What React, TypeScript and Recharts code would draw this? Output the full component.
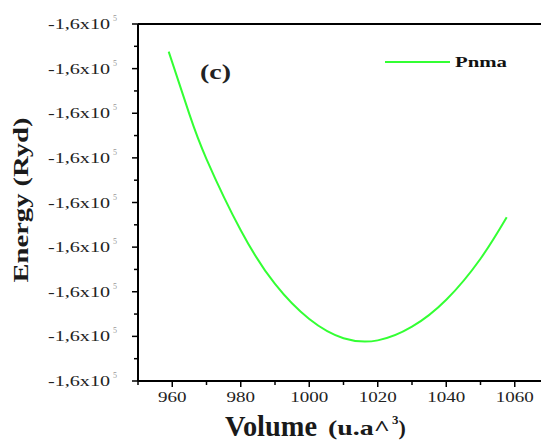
import { LineChart, Line, XAxis, YAxis, Legend, ReferenceLine } from "recharts";

// volume (u.a^3)
const volume = [958.96, 965, 970, 980, 990, 1000, 1010, 1020, 1030, 1040, 1050, 1057.65];
// energy (Ryd)
const energy = [
  -160003.1, -160010.1, -160015.13, -160023.11, -160029.13, -160033.06, -160035.21, -160035.45,
  -160033.92, -160030.9, -160026.3, -160021.65,
];

const xTicks = [950, 960, 970, 980, 990, 1000, 1010, 1020, 1030, 1040, 1050, 1060, 1070];
const yTicks = [
  -160040, -160037.5, -160035, -160032.5, -160030, -160027.5, -160025, -160022.5, -160020,
  -160017.5, -160015, -160012.5, -160010, -160007.5, -160005, -160002.5, -160000,
];

const data = volume.map((v, i) => ({ v, e: energy[i] }));

const SERIF = "'Liberation Serif', 'Times New Roman', serif";

function XTick(props: any) {
  const { x, y, payload } = props;
  const major = payload.value % 20 === 0;
  const label = String(payload.value);
  return (
    <g>
      <line x1={x} x2={x} y1={y} y2={y + (major ? 6 : 4)} stroke="#000" strokeWidth={1.5} />
      {major && (
        <text
          x={x}
          y={y + 21}
          textAnchor="middle"
          fontFamily={SERIF}
          fontSize={15}
          fill="#222"
          textLength={label.length * 9.5}
          lengthAdjust="spacingAndGlyphs"
        >
          {label}
        </text>
      )}
    </g>
  );
}

function YTick(props: any) {
  const { x, y, payload } = props;
  const major = Math.abs(payload.value % 5) < 0.01;
  return (
    <g>
      <line x1={x} x2={x - (major ? 6 : 4)} y1={y} y2={y} stroke="#000" strokeWidth={1.5} />
      {major && (
        <text x={x - 28} y={y + 5} textAnchor="end" fontFamily={SERIF} fontSize={15} fill="#222">
          <tspan textLength={62} lengthAdjust="spacingAndGlyphs">-1,6x10</tspan>
        </text>
      )}
      {major && (
        <text x={x - 23} y={y - 3} textAnchor="middle" fontFamily={SERIF} fontSize={8} fill="#999">
          5
        </text>
      )}
    </g>
  );
}

function LegendBox() {
  return (
    <svg width={140} height={24}>
      <line x1={0} x2={65} y1={11} y2={11} stroke="#33ff33" strokeWidth={2} />
      <text
        x={70}
        y={16}
        fontFamily={SERIF}
        fontWeight="bold"
        fontSize={15}
        fill="#111"
        textLength={52}
        lengthAdjust="spacingAndGlyphs"
      >
        Pnma
      </text>
    </svg>
  );
}

export default function App() {
  return (
    <div style={{ position: "fixed", left: 0, top: 0, width: 541, height: 441, overflow: "hidden", background: "#fff" }}>
      <LineChart width={549} height={441} data={data} margin={{ top: 24, right: 0, bottom: 0, left: 0 }}>
        <XAxis
          type="number"
          dataKey="v"
          domain={[950, 1070]}
          ticks={xTicks}
          interval={0}
          allowDataOverflow
          height={60}
          tickSize={0}
          tickMargin={0}
          tickLine={false}
          axisLine={{ stroke: "#000", strokeWidth: 2 }}
          tick={<XTick />}
        />
        <YAxis
          type="number"
          domain={[-160040, -160000]}
          ticks={yTicks}
          interval={0}
          allowDataOverflow
          width={138}
          tickSize={0}
          tickMargin={0}
          tickLine={false}
          axisLine={{ stroke: "#000", strokeWidth: 2 }}
          tick={<YTick />}
        />
        <ReferenceLine y={-160000} stroke="#000" strokeWidth={2} />
        <Legend
          layout="horizontal"
          verticalAlign="middle"
          align="center"
          wrapperStyle={{ position: "absolute", left: 385, top: 51, width: 140 }}
          content={() => <LegendBox />}
        />
        <Line
          type="natural"
          dataKey="e"
          name="Pnma"
          stroke="#33ff33"
          strokeWidth={2}
          dot={false}
          isAnimationActive={false}
        />
      </LineChart>
      <svg width={541} height={441} style={{ position: "absolute", left: 0, top: 0, pointerEvents: "none" }}>
        <text
          x={200}
          y={79}
          fontFamily={SERIF}
          fontWeight="bold"
          fontSize={20}
          fill="#222"
          textLength={31}
          lengthAdjust="spacingAndGlyphs"
        >
          (c)
        </text>
        <text
          transform="translate(28,200) rotate(-90)"
          textAnchor="middle"
          fontFamily={SERIF}
          fontWeight="bold"
          fontSize={20}
          fill="#1a1a1a"
          textLength={165}
          lengthAdjust="spacingAndGlyphs"
        >
          Energy (Ryd)
        </text>
        <text x={225} y={436} fontFamily={SERIF} fontWeight="bold" fontSize={29} fill="#1a1a1a" textLength={92} lengthAdjust="spacingAndGlyphs">
          Volume
        </text>
        <text x={328} y={435} fontFamily={SERIF} fontWeight="bold" fontSize={22} fill="#1a1a1a">
          <tspan textLength={62} lengthAdjust="spacingAndGlyphs">(u.a^</tspan>
          <tspan dy={-11} dx={2} fontSize={13}>3</tspan>
          <tspan dy={11} fontSize={22}>)</tspan>
        </text>
      </svg>
    </div>
  );
}
